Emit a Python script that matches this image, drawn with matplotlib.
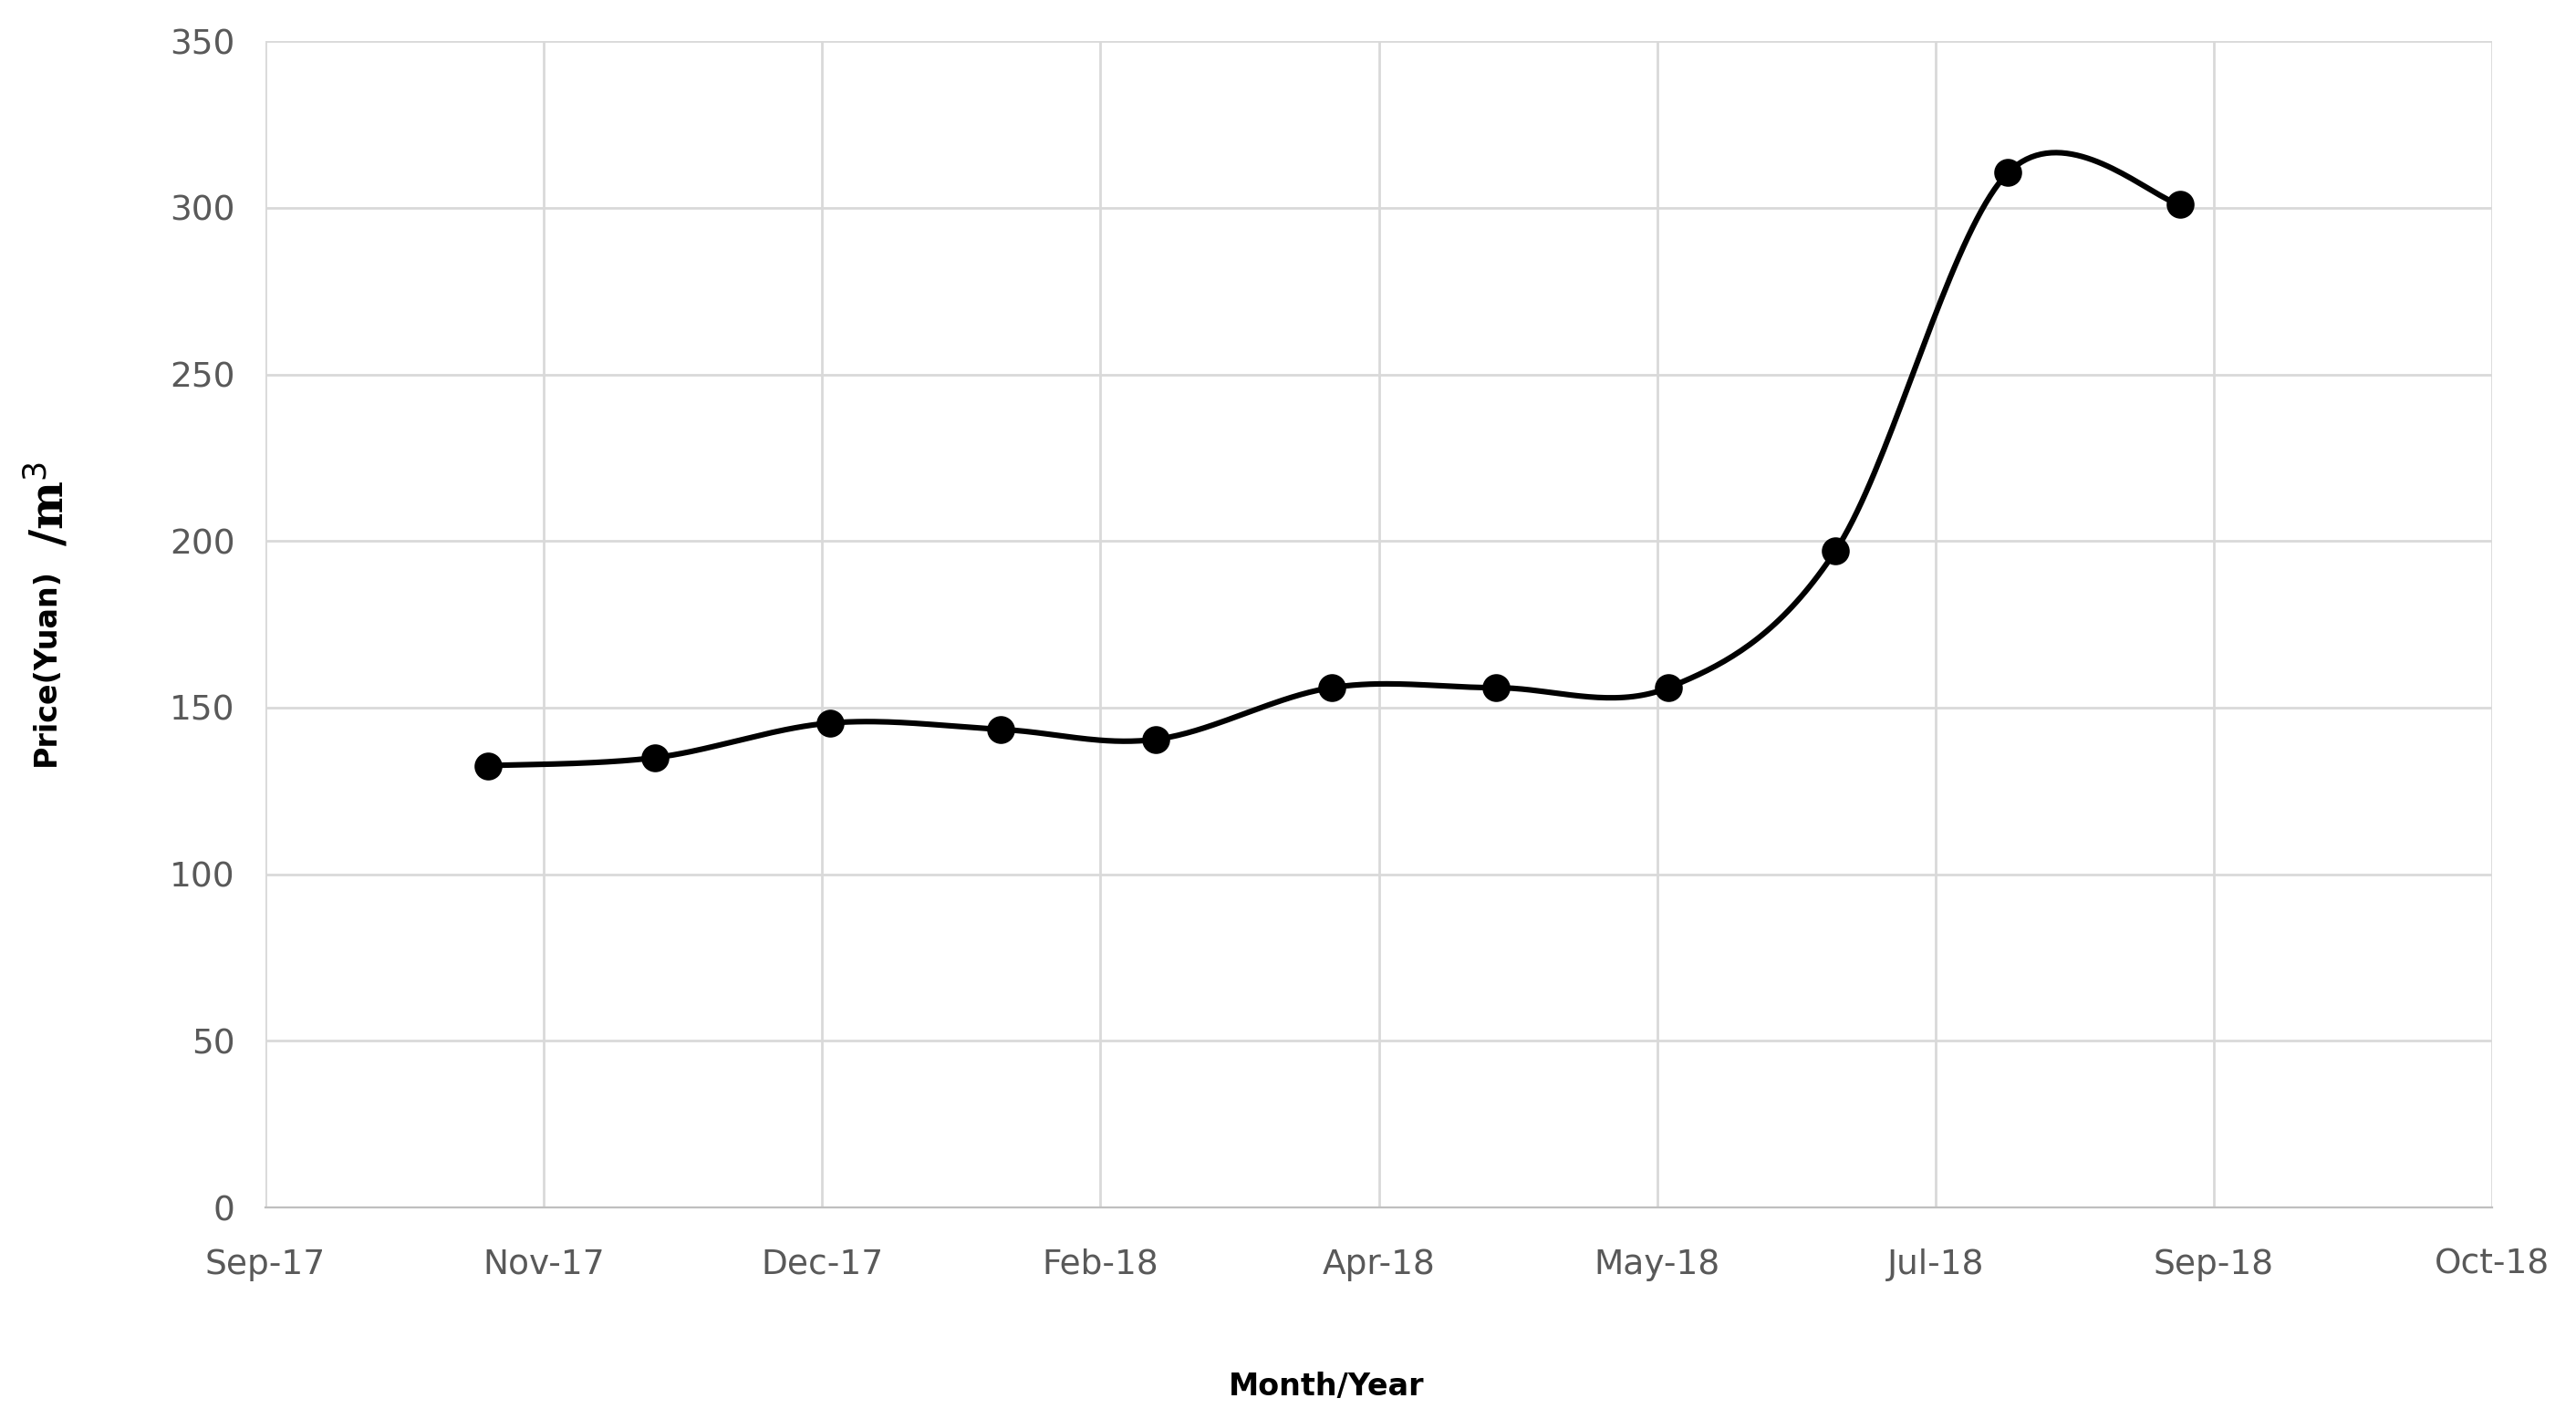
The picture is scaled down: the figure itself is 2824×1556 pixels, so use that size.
import numpy as np
import matplotlib.pyplot as plt

# x positions in units of the tick interval (Sep-17 = 0)
month_labels = ['Sep-17', 'Nov-17', 'Dec-17', 'Feb-18', 'Apr-18', 'May-18', 'Jul-18', 'Sep-18', 'Oct-18']
x_pos = [0.80, 1.40, 2.03, 2.64, 3.20, 3.83, 4.42, 5.04, 5.64, 6.26, 6.88]
price = [132.6, 135, 145.4, 143.5, 140.5, 156, 156, 156, 197, 310.5, 301]

def smooth(xs, ys, n=40):
    # Excel-style smoothed line: cubic bezier with catmull-rom control points
    p = np.column_stack([xs, ys])
    p = np.vstack([p[0], p, p[-1]])
    out = []
    for i in range(1, len(p) - 2):
        p0, p1, p2, p3 = p[i - 1], p[i], p[i + 1], p[i + 2]
        c1 = p1 + (p2 - p0) / 6
        c2 = p2 - (p3 - p1) / 6
        t = np.linspace(0, 1, n)[:, None]
        out.append((1 - t)**3 * p1 + 3 * (1 - t)**2 * t * c1 + 3 * (1 - t) * t**2 * c2 + t**3 * p2)
    out = np.vstack(out)
    return out[:, 0], out[:, 1]

fig = plt.figure(figsize=(14.12, 7.78), dpi=200)
ax = fig.add_axes([0.103, 0.149, 0.8645, 0.822])
sx, sy = smooth(x_pos, price)
ax.plot(sx, sy, color='black', lw=2.2, zorder=3)
ax.plot(x_pos, price, 'o', color='black', ms=10, zorder=4)

ax.set_xlim(0, 8)
ax.set_ylim(0, 350)
ax.set_xticks(range(9))
ax.set_xticklabels(month_labels)
ax.set_yticks(range(0, 351, 50))
ax.grid(True, color='#d9d9d9', lw=1)
ax.set_axisbelow(True)
for s in ['top', 'right', 'left']:
    ax.spines[s].set_visible(False)
ax.spines['bottom'].set_color('#bfbfbf')
ax.tick_params(length=0, labelsize=13.5, colors='#595959', pad=12)
ax.tick_params(axis='x', pad=16)

fig.text(0.515, 0.017, 'Month/Year', ha='center', fontsize=12, fontweight='bold')
fig.text(0.018, 0.53, 'Price(Yuan)', rotation=90, va='center', ha='center', fontsize=12, fontweight='bold')
fig.text(0.019, 0.645, '/m$^3$', rotation=90, va='center', ha='center', fontsize=18,
         fontweight='bold', family='DejaVu Serif')

fig.savefig('out.png')
